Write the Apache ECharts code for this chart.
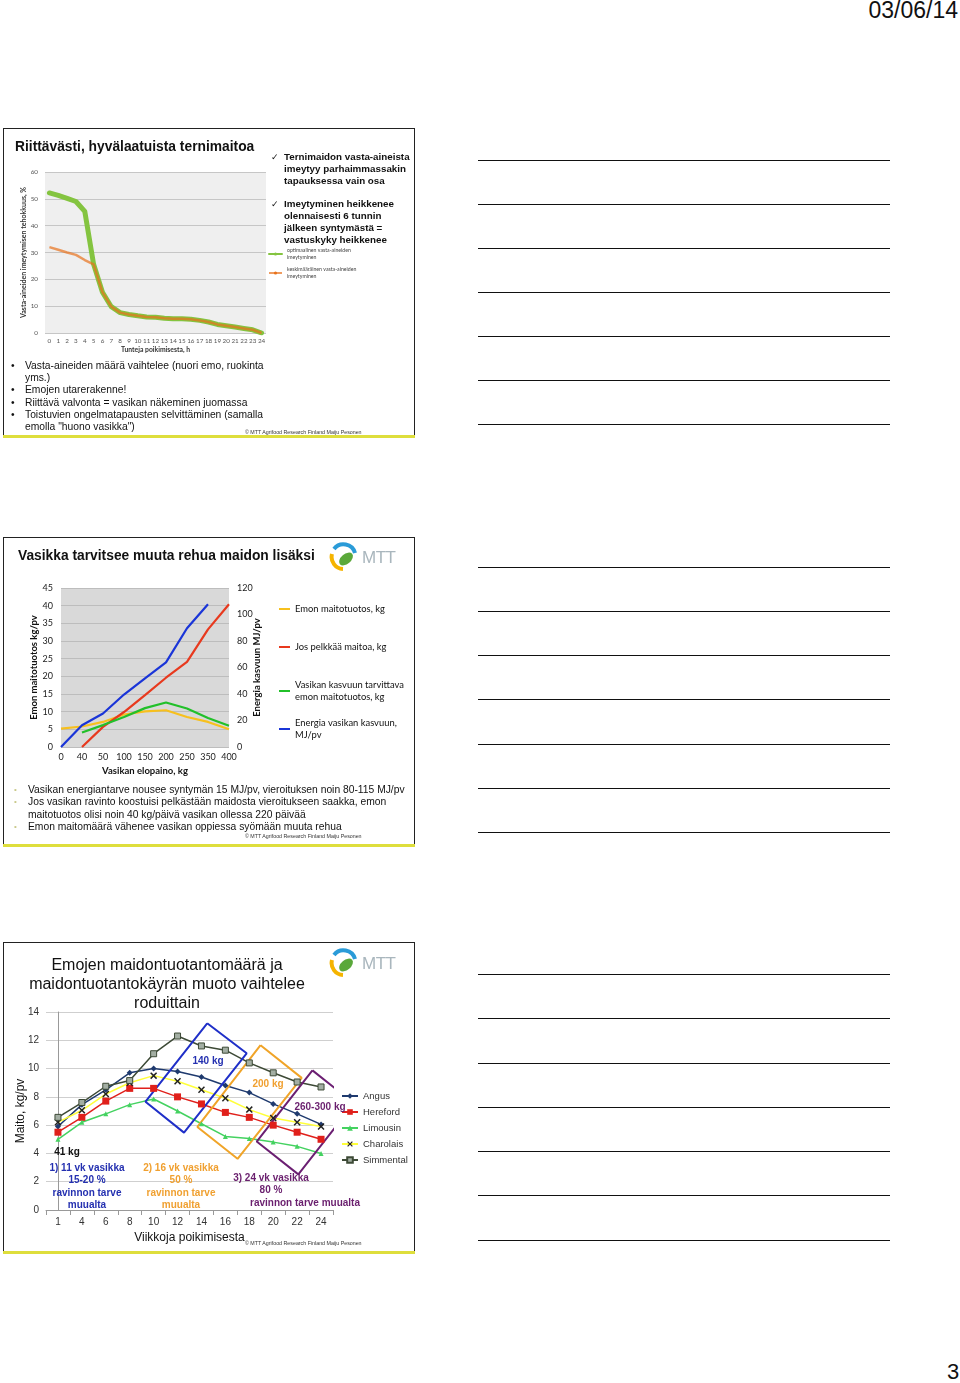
<!DOCTYPE html>
<html><head><meta charset="utf-8">
<script src="https://cdn.jsdelivr.net/npm/echarts@6/dist/echarts.min.js"></script>
<style>
body{margin:0;background:#fff;}
#page{position:relative;width:960px;height:1383px;background:#fff;font-family:"Liberation Sans",Arial,sans-serif;color:#111;overflow:hidden}
.frame{position:absolute;left:3px;width:412px;border:1.5px solid #222;box-sizing:border-box;}
.bar{position:absolute;left:3px;width:412px;height:3px;background:#dede3c;}
.t{position:absolute;white-space:nowrap;}
.note{position:absolute;left:478px;width:412px;height:0;border-top:1.5px solid #111;}
.chart{position:absolute;left:3px;width:412px;}
.foot{position:absolute;font-size:5.3px;color:#333;white-space:nowrap;left:245px;}
.ann{position:absolute;font-weight:bold;font-size:10px;white-space:nowrap;text-align:center;}
</style>
</head><body>
<div id="page">
<div class="t" style="right:2px;top:-3px;font-size:23px;line-height:26px;color:#111">03/06/14</div>
<div class="t" style="left:947px;top:1359px;font-size:22px;line-height:26px;color:#111">3</div>

<!-- slide 1 -->
<div class="frame" style="top:128px;height:309px"></div>
<div class="bar" style="top:435px"></div>
<div id="c1" class="chart" style="top:128px;height:309px"></div>
<div class="t" style="left:15px;top:138px;font-size:13.8px;font-weight:bold;line-height:18px">Riittävästi, hyvälaatuista ternimaitoa</div>
<div class="t" style="left:271px;top:151px;font-size:9px;line-height:12px">✓</div>
<div class="t" style="left:284px;top:151px;font-size:9.8px;font-weight:bold;line-height:12px">Ternimaidon vasta-aineista<br>imeytyy parhaimmassakin<br>tapauksessa vain osa</div>
<div class="t" style="left:271px;top:198px;font-size:9px;line-height:12px">✓</div>
<div class="t" style="left:284px;top:198px;font-size:9.8px;font-weight:bold;line-height:12px">Imeytyminen heikkenee<br>olennaisesti 6 tunnin<br>jälkeen syntymästä =<br>vastuskyky heikkenee</div>
<div class="t" style="left:11px;top:360px;font-size:10.3px;line-height:12.2px">•<br><br>•<br>•<br>•</div>
<div class="t" style="left:25px;top:360px;font-size:10.3px;line-height:12.2px">Vasta-aineiden määrä vaihtelee (nuori emo, ruokinta<br>yms.)<br>Emojen utarerakenne!<br>Riittävä valvonta = vasikan näkeminen juomassa<br>Toistuvien ongelmatapausten selvittäminen (samalla<br>emolla "huono vasikka")</div>
<div class="foot" style="top:429px">© MTT Agrifood Research Finland Maiju Pesonen</div>

<!-- slide 2 -->
<div class="frame" style="top:537px;height:309px"></div>
<div class="bar" style="top:844px"></div>
<div id="c2" class="chart" style="top:537px;height:309px"></div>
<div class="t" style="left:18px;top:547px;font-size:13.8px;font-weight:bold;line-height:18px">Vasikka tarvitsee muuta rehua maidon lisäksi</div>
<svg class="t" style="left:329px;top:541px" width="72" height="32" viewBox="0 0 72 32">
 <path d="M5,8 A12,12 0 0 1 26,12" fill="none" stroke="#2a9bd8" stroke-width="4"/>
 <path d="M3,13 A12,12 0 0 0 14,28" fill="none" stroke="#f5b400" stroke-width="4"/>
 <ellipse cx="17" cy="18" rx="8" ry="5" transform="rotate(-40 17 18)" fill="#5aa83a"/>
 <text x="33" y="22" font-size="17" fill="#a9b6bd" font-family="Liberation Sans, Arial" letter-spacing="-0.5">MTT</text>
</svg>
<div class="t" style="left:14px;top:784px;font-size:8px;line-height:12.3px;color:#c9c98a">•<br>•<br><br>•</div>
<div class="t" style="left:28px;top:784px;font-size:10.3px;line-height:12.3px">Vasikan energiantarve nousee syntymän 15 MJ/pv, vieroituksen noin 80-115 MJ/pv<br>Jos vasikan ravinto koostuisi pelkästään maidosta vieroitukseen saakka, emon<br>maitotuotos olisi noin 40 kg/päivä vasikan ollessa 220 päivää<br>Emon maitomäärä vähenee vasikan oppiessa syömään muuta rehua</div>
<div class="foot" style="top:833px">© MTT Agrifood Research Finland Maiju Pesonen</div>

<!-- slide 3 -->
<div class="frame" style="top:942px;height:311px"></div>
<div class="bar" style="top:1251px"></div>
<div id="c3" class="chart" style="top:942px;height:311px"></div>
<div class="t" style="left:0px;width:334px;text-align:center;top:955px;font-size:16px;line-height:19px">Emojen maidontuotantomäärä ja<br>maidontuotantokäyrän muoto vaihtelee<br>roduittain</div>
<svg class="t" style="left:329px;top:947px" width="72" height="32" viewBox="0 0 72 32">
 <path d="M5,8 A12,12 0 0 1 26,12" fill="none" stroke="#2a9bd8" stroke-width="4"/>
 <path d="M3,13 A12,12 0 0 0 14,28" fill="none" stroke="#f5b400" stroke-width="4"/>
 <ellipse cx="17" cy="18" rx="8" ry="5" transform="rotate(-40 17 18)" fill="#5aa83a"/>
 <text x="33" y="22" font-size="17" fill="#a9b6bd" font-family="Liberation Sans, Arial" letter-spacing="-0.5">MTT</text>
</svg>
<div class="ann" style="left:178px;width:60px;top:1055px;color:#2430b0">140 kg</div>
<div class="ann" style="left:238px;width:60px;top:1078px;color:#f0a030">200 kg</div>
<div class="ann" style="left:280px;width:80px;top:1101px;color:#6a1f6e">260-300 kg</div>
<div class="ann" style="left:37px;width:60px;top:1146px;color:#111">41 kg</div>
<div class="ann" style="left:37px;width:100px;top:1162px;line-height:12.3px;color:#2430b0">1) 11 vk vasikka<br>15-20 %<br>ravinnon tarve<br>muualta</div>
<div class="ann" style="left:131px;width:100px;top:1162px;line-height:12.3px;color:#f0a030">2) 16 vk vasikka<br>50 %<br>ravinnon tarve<br>muualta</div>
<div class="ann" style="left:221px;width:100px;top:1172px;line-height:12.3px;color:#6a1f6e">3) 24 vk vasikka<br>80 %</div>
<div class="ann" style="left:245px;width:120px;top:1197px;color:#6a1f6e">ravinnon tarve muualta</div>
<div class="foot" style="top:1240px">© MTT Agrifood Research Finland Maiju Pesonen</div>

<div class="note" style="top:160px"></div><div class="note" style="top:204px"></div><div class="note" style="top:248px"></div><div class="note" style="top:292px"></div><div class="note" style="top:336px"></div><div class="note" style="top:380px"></div><div class="note" style="top:424px"></div>
<div class="note" style="top:567px"></div><div class="note" style="top:611px"></div><div class="note" style="top:655px"></div><div class="note" style="top:699px"></div><div class="note" style="top:744px"></div><div class="note" style="top:788px"></div><div class="note" style="top:832px"></div>
<div class="note" style="top:974px"></div><div class="note" style="top:1018px"></div><div class="note" style="top:1063px"></div><div class="note" style="top:1107px"></div><div class="note" style="top:1151px"></div><div class="note" style="top:1195px"></div><div class="note" style="top:1240px"></div>
</div>

<script>
// ---------- Slide 1 data ----------
const hours = ['0','1','2','3','4','5','6','7','8','9','10','11','12','13','14','15','16','17','18','19','20','21','22','23','24'];
const optimalAbs = [52.2,51.3,50.2,49,45.3,25.6,15.2,9.8,7.6,6.9,6.4,6.0,5.9,5.5,5.35,5.3,5.1,4.7,4.1,3.2,2.7,2.2,1.7,1.2,0];
const averageAbs = [32,31,30,29.1,27.2,25.6,15.2,9.8,7.6,6.9,6.4,6.0,5.9,5.5,5.35,5.3,5.1,4.7,4.1,3.2,2.7,2.2,1.7,1.2,0];
const s1Names = ['optimaalinen vasta-aineiden\nimeytyminen','keskimääräinen vasta-aineiden\nimeytyminen'];

// ---------- Slide 2 data ----------
const calfWeight = ['0','40','50','100','150','200','250','350','400'];
const damMilk = [5.2,5.8,7.1,9.2,10.1,10.4,8.5,7.1,5.0];
const onlyMilk = [null,0,5.7,9.9,14.7,19.6,24.1,33.3,40.4];
const growthMilk = [null,4.1,6.2,8.5,11.0,12.6,10.9,8.2,6.0];
const growthEnergy = [0,16.4,25.3,39.6,51.8,63.9,89.6,107.8,null];
const s2Names = ['Emon maitotuotos, kg','Jos pelkkää maitoa, kg','Vasikan kasvuun tarvittava\nemon maitotuotos, kg','Energia vasikan kasvuun,\nMJ/pv'];

// ---------- Slide 3 data ----------
const weeks = ['1','4','6','8','10','12','14','16','18','20','22','24'];
const angus     = [5.9,7.45,8.5,9.7,10.0,9.8,9.4,8.8,8.3,7.5,6.8,6.05];
const hereford  = [5.5,6.55,7.7,8.6,8.6,8.0,7.5,6.9,6.55,6.0,5.5,5.0];
const limousin  = [5.0,6.2,6.8,7.45,7.85,7.0,6.1,5.2,5.05,4.8,4.5,4.0];
const charolais = [6.2,7.05,8.2,9.0,9.5,9.1,8.5,7.9,7.1,6.5,6.2,5.9];
const simmental = [6.55,7.6,8.75,9.15,11.05,12.3,11.6,11.3,10.4,9.7,9.05,8.7];
const breeds = ['Angus','Hereford','Limousin','Charolais','Simmental'];
// annotation boxes: corners as [week index, kg/pv]
const box140 = [[6.24,13.2],[7.89,11.08],[5.27,5.47],[3.66,7.66]];
const box200 = [[8.47,11.65],[10.19,9.34],[7.51,3.62],[5.83,5.87]];
const box260 = [[10.64,9.87],[12.38,7.55],[10.05,2.52],[8.31,4.84]];

// ---------- Chart 1 ----------
const c1 = echarts.init(document.getElementById('c1'), null, {renderer:'canvas'});
const f1 = 'Lato, "Noto Sans", sans-serif';
c1.setOption({
  animation:false,
  textStyle:{fontFamily:f1},
  grid:{left:42, top:44, width:221, height:161, show:true, backgroundColor:'#efefef', borderWidth:0, outerBoundsMode:'none', containLabel:false},
  xAxis:{type:'category', data:hours, boundaryGap:true, nameMoveOverlap:false,
    axisLine:{show:false}, axisTick:{show:false},
    axisLabel:{fontSize:6.3, color:'#555', margin:5, interval:0, fontFamily:f1},
    name:'Tunteja poikimisesta, h', nameLocation:'middle', nameGap:13,
    nameTextStyle:{fontSize:6.8, fontWeight:'bold', color:'#333', fontFamily:f1}},
  yAxis:{type:'value', min:0, max:60, interval:10, nameMoveOverlap:false,
    axisLine:{show:false}, axisTick:{show:false},
    splitLine:{lineStyle:{color:'#c6c6c6', width:1}},
    axisLabel:{fontSize:6.3, color:'#555', margin:7, fontFamily:f1},
    name:'Vasta-aineiden imeytymisen tehokkuus, %', nameLocation:'middle', nameGap:18,
    nameTextStyle:{fontSize:7, fontWeight:'bold', color:'#333', fontFamily:f1}},
  legend:[
    {data:[s1Names[0]], left:265, top:119, padding:0, itemWidth:13, itemHeight:4,
     textStyle:{fontSize:5.2, lineHeight:7, color:'#444', fontFamily:f1}},
    {data:[s1Names[1]], left:265, top:138, padding:0, itemWidth:13, itemHeight:4,
     textStyle:{fontSize:5.2, lineHeight:7, color:'#444', fontFamily:f1}}
  ],
  series:[
    {name:s1Names[0], type:'line', data:optimalAbs, symbol:'none', color:'#84c440',
     lineStyle:{width:5, color:'#84c440', cap:'round', join:'round'}},
    {name:s1Names[1], type:'line', data:averageAbs, symbol:'none', color:'#e8721c',
     lineStyle:{width:2.5, color:'#e8721c', opacity:0.7, join:'round'}}
  ]
});

// ---------- Chart 2 ----------
const c2 = echarts.init(document.getElementById('c2'), null, {renderer:'canvas'});
const lg2 = (name, top) => ({data:[name], left:275, top:top, padding:0, itemWidth:11, itemHeight:2,
   textStyle:{fontSize:9.4, lineHeight:12, color:'#111', fontFamily:f1}});
c2.setOption({
  animation:false,
  textStyle:{fontFamily:f1},
  grid:{left:58, top:51, width:168, height:159, show:true, backgroundColor:'#d9d9d9', borderWidth:0, outerBoundsMode:'none', containLabel:false},
  xAxis:{type:'category', data:calfWeight, boundaryGap:false, nameMoveOverlap:false,
    axisLine:{show:false}, axisTick:{show:false},
    axisLabel:{fontSize:9, color:'#222', margin:6, interval:0, fontFamily:f1},
    name:'Vasikan elopaino, kg', nameLocation:'middle', nameGap:19,
    nameTextStyle:{fontSize:9.5, fontWeight:'bold', color:'#111', fontFamily:f1}},
  yAxis:[
    {type:'value', min:0, max:45, interval:5, nameMoveOverlap:false,
     axisLine:{show:false}, axisTick:{show:false},
     splitLine:{lineStyle:{color:'#bdbdbd'}},
     axisLabel:{fontSize:9, color:'#222', margin:8, fontFamily:f1},
     name:'Emon maitotuotos kg/pv', nameLocation:'middle', nameGap:22,
     nameTextStyle:{fontSize:9.5, fontWeight:'bold', color:'#111', fontFamily:f1}},
    {type:'value', min:0, max:120, interval:20, position:'right', nameMoveOverlap:false,
     axisLine:{show:false}, axisTick:{show:false}, splitLine:{show:false},
     axisLabel:{fontSize:9, color:'#222', margin:8, fontFamily:f1},
     name:'Energia kasvuun MJ/pv', nameLocation:'middle', nameGap:23,
     nameTextStyle:{fontSize:9.5, fontWeight:'bold', color:'#111', fontFamily:f1}}
  ],
  legend:[lg2(s2Names[0],66), lg2(s2Names[1],104), lg2(s2Names[2],142), lg2(s2Names[3],180)],
  series:[
    {name:s2Names[0], type:'line', data:damMilk, symbol:'none', color:'#f7c01e', lineStyle:{width:2.2}},
    {name:s2Names[1], type:'line', data:onlyMilk, symbol:'none', color:'#e8391e', lineStyle:{width:2.2}},
    {name:s2Names[2], type:'line', data:growthMilk, symbol:'none', color:'#22c02a', lineStyle:{width:2.2}},
    {name:s2Names[3], type:'line', data:growthEnergy, yAxisIndex:1, symbol:'none', color:'#1a35d8', lineStyle:{width:2.2}}
  ]
});

// ---------- Chart 3 ----------
const c3 = echarts.init(document.getElementById('c3'), null, {renderer:'canvas'});
const f3 = '"Liberation Sans", Arial, sans-serif';
const xPath = 'path://M0,1.5 L1.5,0 L5,3.5 L8.5,0 L10,1.5 L6.5,5 L10,8.5 L8.5,10 L5,6.5 L1.5,10 L0,8.5 L3.5,5 Z';
const boxSeries = (pts, color) => ({type:'line', xAxisIndex:1, data:pts.concat([pts[0]]), symbol:'none',
  clip:false, silent:true, lineStyle:{width:2, color:color}, z:3});
c3.setOption({
  animation:false,
  textStyle:{fontFamily:f3},
  grid:{left:43, top:70, width:287, height:198, outerBoundsMode:'none', containLabel:false},
  xAxis:[
    {type:'category', data:weeks, boundaryGap:true, nameMoveOverlap:false,
     axisLine:{lineStyle:{color:'#999'}}, axisTick:{show:true, lineStyle:{color:'#999'}},
     axisLabel:{fontSize:10, color:'#333', margin:7, interval:0, fontFamily:f3},
     name:'Viikkoja poikimisesta', nameLocation:'middle', nameGap:22,
     nameTextStyle:{fontSize:12, color:'#111', fontFamily:f3}},
    {type:'value', min:-0.5, max:11.5, show:false}
  ],
  yAxis:{type:'value', min:0, max:14, interval:2, nameMoveOverlap:false,
    axisLine:{show:true, lineStyle:{color:'#999'}}, axisTick:{show:false},
    splitLine:{lineStyle:{color:'#cfcfcf'}},
    axisLabel:{fontSize:10, color:'#333', margin:7, fontFamily:f3},
    name:'Maito, kg/pv', nameLocation:'middle', nameGap:19,
    nameTextStyle:{fontSize:12, color:'#111', fontFamily:f3}},
  legend:{data:breeds, orient:'vertical', left:338, top:149, padding:0, itemGap:6,
    itemWidth:16, itemHeight:7, textStyle:{fontSize:9.5, color:'#333', fontFamily:f3}},
  series:[
    {name:'Angus', type:'line', data:angus, symbol:'diamond', symbolSize:6,
     lineStyle:{width:1.5, color:'#1f3a6e'}, itemStyle:{color:'#1f3a6e'}},
    {name:'Hereford', type:'line', data:hereford, symbol:'rect', symbolSize:7,
     lineStyle:{width:1.5, color:'#e0201b'}, itemStyle:{color:'#e0201b'}},
    {name:'Limousin', type:'line', data:limousin, symbol:'triangle', symbolSize:5,
     lineStyle:{width:1.5, color:'#44d260'}, itemStyle:{color:'#44d260'}},
    {name:'Charolais', type:'line', data:charolais, symbol:xPath, symbolSize:7,
     lineStyle:{width:1.5, color:'#ffff3a'}, itemStyle:{color:'#222'}},
    {name:'Simmental', type:'line', data:simmental, symbol:'rect', symbolSize:6,
     lineStyle:{width:1.5, color:'#3d4a36'}, itemStyle:{color:'#a3aea3', borderColor:'#3d4a36', borderWidth:1}},
    boxSeries(box140,'#1f2fc8'),
    boxSeries(box200,'#f0a428'),
    boxSeries(box260,'#6b1f72')
  ]
});
</script>
</body></html>
